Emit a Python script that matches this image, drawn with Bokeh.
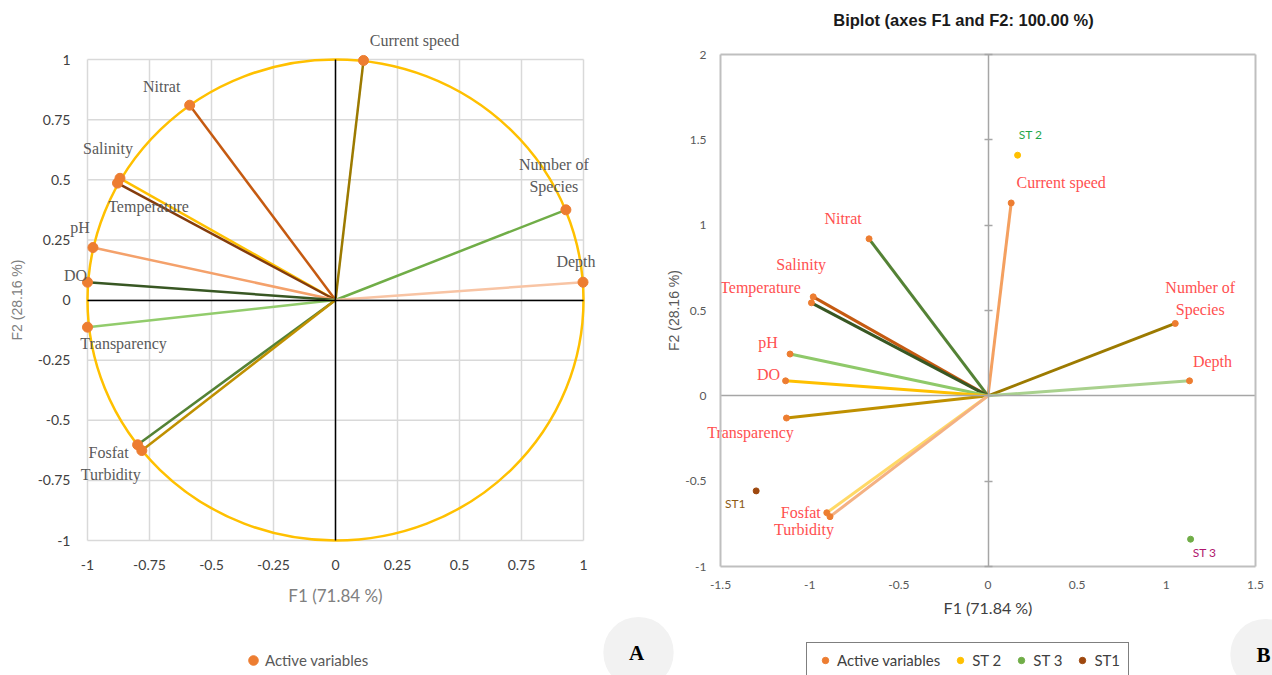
from bokeh.plotting import figure
from bokeh.layouts import row
from bokeh.models import (ColumnDataSource, Label, Legend, LegendItem,
                          FixedTicker, LinearAxis, Range1d)
from bokeh.core.properties import value
from bokeh.embed import file_html
from bokeh.resources import INLINE

# ---------------- data ----------------
variables = ["Current speed", "Nitrat", "Salinity", "Temperature", "pH", "DO",
             "Transparency", "Fosfat", "Turbidity", "Number of\nSpecies", "Depth"]

# Panel A: correlation circle (F1, F2)
a_f1 = [0.113, -0.588, -0.869, -0.879, -0.978, -1.000, -1.000, -0.798, -0.781, 0.929, 0.998]
a_f2 = [0.996, 0.810, 0.506, 0.486, 0.218, 0.074, -0.113, -0.602, -0.626, 0.375, 0.074]

# Panel B: biplot variables (F1, F2)
b_f1 = [0.130, -0.667, -0.980, -0.990, -1.110, -1.135, -1.130, -0.904, -0.886, 1.050, 1.130]
b_f2 = [1.130, 0.920, 0.580, 0.545, 0.245, 0.088, -0.130, -0.685, -0.708, 0.424, 0.088]

# Panel B: observations
stations = ["ST1", "ST 2", "ST 3"]
st_f1 = [-1.300, 0.166, 1.136]
st_f2 = [-0.557, 1.410, -0.840]

a_ticks = [-1, -0.75, -0.5, -0.25, 0, 0.25, 0.5, 0.75, 1]
a_tick_labels = ["-1", "-0.75", "-0.5", "-0.25", "0", "0.25", "0.5", "0.75", "1"]
b_x_ticks = [-1.5, -1, -0.5, 0, 0.5, 1, 1.5]
b_x_tick_labels = ["-1.5", "-1", "-0.5", "0", "0.5", "1", "1.5"]
b_y_ticks = [-1, -0.5, 0, 0.5, 1, 1.5, 2]
b_y_tick_labels = ["-1", "-0.5", "0", "0.5", "1", "1.5", "2"]

# ---------------- styles ----------------
a_line_colors = ["#9C7A00", "#C55A11", "#FFC000", "#843C0C", "#F4A16B", "#385723",
                 "#92CC6C", "#548235", "#BF9000", "#70AD47", "#F8C4A4"]
a_label_dx = [51, -28, -12, 31, -13, -12, 36, -29, -31, -12, -7]
a_label_dy = [-20, -19, -30, 23, -20, -7, 16, 8, 24, -34, -21]

b_line_colors = ["#F4A060", "#548235", "#C55A11", "#385723", "#8FC96A", "#FFC000",
                 "#BF9000", "#FFD966", "#F4B183", "#9C7A00", "#A9D18E"]
b_label_dx = [50, -26, -12, -51, -22, -17, -36, -26, -26, 25, 23]
b_label_dy = [-20, -20, -32, -15, -12, -6, 14, 0, 13, -25, -19]

st_colors = ["#9E480E", "#FFC000", "#70AD47"]
st_text_colors = ["#8C5A14", "#1FA64A", "#B0166E"]
st_label_dx = [-21, 13, 14]
st_label_dy = [13, -21, 13]

ORANGE = "#ED7D31"
NARROW = "Lato"


def span_range(d0, d1, p0, p1, total):
    """Range whose value d0 sits at pixel p0 and d1 at pixel p1 of a frame `total` px long."""
    k = (d1 - d0) / (p1 - p0)
    return Range1d(d0 - p0 * k, d1 + (total - p1) * k)


def label_axis(fixed, bounds, ticks, labels, size, color, standoff):
    return LinearAxis(fixed_location=fixed, bounds=bounds, ticker=FixedTicker(ticks=ticks),
                      major_label_overrides={t: l for t, l in zip(ticks, labels)},
                      axis_line_color=None, major_tick_line_color=None,
                      minor_tick_line_color=None, major_tick_in=0, major_tick_out=0,
                      major_label_text_font=NARROW, major_label_text_font_size=size,
                      major_label_text_color=color, major_label_standoff=standoff,
                      axis_label_text_font_style="normal")


def line_axis(fixed, bounds, color, width, ticks=(), tick_len=0):
    return LinearAxis(fixed_location=fixed, bounds=bounds, ticker=FixedTicker(ticks=list(ticks)),
                      axis_line_color=color, axis_line_width=width,
                      major_tick_line_color=color if ticks else None, major_tick_line_width=width,
                      major_tick_in=tick_len, major_tick_out=tick_len,
                      minor_tick_line_color=None, major_label_text_color=None,
                      major_label_text_font_size="1px")


# ================= Panel A =================
A_W, A_H = 600, 675
src_a = ColumnDataSource(dict(x=a_f1, y=a_f2, name=variables, color=a_line_colors,
                              dx=a_label_dx, dy=a_label_dy))

pa = figure(width=A_W, height=A_H,
            x_range=span_range(-1, 1, 87, 583, A_W),
            y_range=span_range(-1, 1, A_H - 540, A_H - 59, A_H),
            x_axis_location=None, y_axis_location=None,
            output_backend="svg", toolbar_location=None,
            min_border=0)
pa.background_fill_color = "white"
pa.border_fill_color = "white"
pa.outline_line_color = None
pa.grid.visible = False

# light grid inside the [-1, 1] box, built from the tick values
n = len(a_ticks)
pa.segment(x0=a_ticks, y0=[a_ticks[0]] * n, x1=a_ticks, y1=[a_ticks[-1]] * n,
           line_color="#D9D9D9", line_width=1.5)
pa.segment(x0=[a_ticks[0]] * n, y0=a_ticks, x1=[a_ticks[-1]] * n, y1=a_ticks,
           line_color="#D9D9D9", line_width=1.5)

ax_ax = label_axis(-1, (-1, 1), a_ticks, a_tick_labels, "14px", "#404040", 19)
ax_ax.axis_label = "F1 (71.84 %)"
ax_ax.axis_label_text_font = NARROW
ax_ax.axis_label_text_font_size = "17px"
ax_ax.axis_label_text_color = "#808080"
ax_ax.axis_label_standoff = 12
pa.add_layout(ax_ax, "below")

ay_ax = label_axis(-1, (-1, 1), a_ticks, a_tick_labels, "14px", "#404040", 17)
ay_ax.axis_label = "F2 (28.16 %)"
ay_ax.axis_label_text_font = "Liberation Sans"
ay_ax.axis_label_text_font_size = "14px"
ay_ax.axis_label_text_color = "#808080"
ay_ax.axis_label_standoff = 10
pa.add_layout(ay_ax, "left")

pa.ellipse(x=0, y=0, width=2, height=2, fill_color=None, line_color="#FFC000", line_width=2.5)

# black zero axes
pa.add_layout(line_axis(0, (-1, 1), "black", 1.5), "below")
pa.add_layout(line_axis(0, (-1, 1), "black", 1.5), "left")

pa.segment(x0=0, y0=0, x1="x", y1="y", line_color="color", line_width=2.5, source=src_a)
rA = pa.scatter("x", "y", size=10, color=ORANGE, source=src_a)
pa.text("x", "y", text="name", x_offset="dx", y_offset="dy", source=src_a,
        text_font=value("Liberation Serif"), text_font_size="16px", text_color="#595959",
        text_align="center", text_baseline="middle", text_line_height=1.3)

leg_a = Legend(items=[LegendItem(label="Active variables", renderers=[rA])],
               location=(241, 3), orientation="horizontal", padding=0, margin=0,
               glyph_width=24, glyph_height=24, label_standoff=0,
               border_line_color=None, background_fill_alpha=0,
               label_text_font=NARROW, label_text_font_size="15px", label_text_color="#595959")
pa.add_layout(leg_a)

# ================= Panel B =================
B_W, B_H = 672, 675
src_b = ColumnDataSource(dict(x=b_f1, y=b_f2, name=variables, color=b_line_colors,
                              dx=b_label_dx, dy=b_label_dy))
src_st = ColumnDataSource(dict(x=st_f1, y=st_f2, name=stations, color=st_colors,
                               tcolor=st_text_colors, dx=st_label_dx, dy=st_label_dy))

pb = figure(width=B_W, height=B_H,
            x_range=span_range(-1.5, 1.5, 120, 655, B_W),
            y_range=span_range(-1, 2, B_H - 566, B_H - 54, B_H),
            x_axis_location=None, y_axis_location=None,
            output_backend="svg", toolbar_location=None,
            min_border=0)
pb.background_fill_color = "white"
pb.border_fill_color = "white"
pb.outline_line_color = None
pb.grid.visible = False

bx_ax = label_axis(-1, (-1.5, 1.5), b_x_ticks, b_x_tick_labels, "12px", "#595959", 14)
bx_ax.axis_line_color = "#BFBFBF"
bx_ax.axis_line_width = 2
bx_ax.axis_label = "F1 (71.84 %)"
bx_ax.axis_label_text_font = NARROW
bx_ax.axis_label_text_font_size = "16px"
bx_ax.axis_label_text_color = "#404040"
bx_ax.axis_label_standoff = 6
pb.add_layout(bx_ax, "below")

by_ax = label_axis(-1.5, (-1, 2), b_y_ticks, b_y_tick_labels, "12px", "#595959", 14)
by_ax.axis_line_color = "#BFBFBF"
by_ax.axis_line_width = 2
by_ax.axis_label = "F2 (28.16 %)"
by_ax.axis_label_text_font = "Liberation Sans"
by_ax.axis_label_text_font_size = "14px"
by_ax.axis_label_text_color = "#595959"
by_ax.axis_label_standoff = 0
pb.add_layout(by_ax, "left")

# top / right edges of the plot box
pb.add_layout(line_axis(2, (-1.5, 1.5), "#BFBFBF", 2), "above")
pb.add_layout(line_axis(1.5, (-1, 2), "#BFBFBF", 2), "right")
# zero lines, the vertical one with small cross ticks
pb.add_layout(line_axis(0, (-1.5, 1.5), "#A6A6A6", 1.5), "below")
pb.add_layout(line_axis(0, (-1, 2), "#A6A6A6", 1.5, ticks=b_y_ticks, tick_len=4), "left")

pb.segment(x0=0, y0=0, x1="x", y1="y", line_color="color", line_width=3, source=src_b)
rB = pb.scatter("x", "y", size=6, color=ORANGE, source=src_b)
pb.text("x", "y", text="name", x_offset="dx", y_offset="dy", source=src_b,
        text_font=value("Liberation Serif"), text_font_size="16px", text_color="#FF5050",
        text_align="center", text_baseline="middle", text_line_height=1.3)

st_renderers = []
for i in range(len(stations)):
    r = pb.scatter(x=[st_f1[i]], y=[st_f2[i]], size=6, color=st_colors[i])
    st_renderers.append(r)
pb.text("x", "y", text="name", x_offset="dx", y_offset="dy", source=src_st,
        text_font=value(NARROW), text_font_size="12px", text_color="tcolor",
        text_align="center", text_baseline="middle")

pb.add_layout(Label(x=363, y=B_H - 19, x_units="screen", y_units="screen",
                    text="Biplot (axes F1 and F2: 100.00 %)",
                    text_font="Liberation Sans", text_font_size="16.5px", text_font_style="bold",
                    text_color="#1A1A1A", text_align="center", text_baseline="middle"))

leg_b = Legend(items=[LegendItem(label="Active variables", renderers=[rB]),
                      LegendItem(label=stations[1], renderers=[st_renderers[1]]),
                      LegendItem(label=stations[2], renderers=[st_renderers[2]]),
                      LegendItem(label=stations[0], renderers=[st_renderers[0]])],
               location=(206, -3), orientation="horizontal", padding=8, spacing=10, margin=0,
               glyph_width=20, glyph_height=16, label_standoff=2,
               border_line_color="#000000", border_line_width=1,
               label_text_font=NARROW, label_text_font_size="15px", label_text_color="#404040")
pb.add_layout(leg_b)

# panel tags "A" and "B" (grey discs)
for tx, ty, letter in ((38, 23, "A"), (665, 21, "B")):
    pb.add_layout(Label(x=tx, y=ty, x_units="screen", y_units="screen", text=" ",
                        text_font_size="1px", padding=35, border_radius=35,
                        background_fill_color="#F2F2F2", text_align="center",
                        text_baseline="middle"))
    pb.add_layout(Label(x=tx - 2, y=ty, x_units="screen", y_units="screen", text=letter,
                        text_font="Liberation Serif", text_font_size="21px",
                        text_font_style="bold", text_color="black",
                        text_align="center", text_baseline="middle"))

layout = row(pa, pb, spacing=0)
open("out.html", "w").write(file_html(layout, INLINE))
